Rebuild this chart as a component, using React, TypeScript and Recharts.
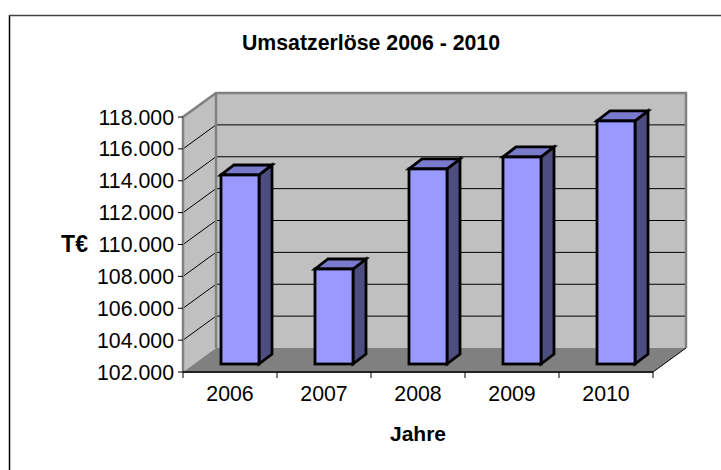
import * as React from "react";
import { BarChart, Bar, XAxis, YAxis, usePlotArea } from "recharts";

const years = ["2006", "2007", "2008", "2009", "2010"];
const revenue = [113860, 107960, 114240, 114990, 117250];
const yTicks = [102000, 104000, 106000, 108000, 110000, 112000, 114000, 116000, 118000];

const data = years.map((year, i) => ({ year, revenue: revenue[i] }));

const FONT = "'Liberation Sans', Arial, sans-serif";
const DEPTH_X = 33;
const DEPTH_Y = 24;
const BAR_DX = 10;
const BAR_DY = 8;
const BAR_DEPTH_X = 13;
const BAR_DEPTH_Y = 10;
const EDGE = "#808080";

const formatTick = (v: number) => String(v).replace(/(\d)(\d{3})$/, "$1.$2");

function Backdrop() {
  const plot = usePlotArea();
  if (!plot) return null;
  const { x, y, width, height } = plot;
  const right = x + width;
  const bottom = y + height;
  const bx = x + DEPTH_X;
  const by = y - DEPTH_Y;
  const lineYs = yTicks.slice(1, -1).map((_, i) => bottom - ((i + 1) * height) / (yTicks.length - 1));
  return (
    <g>
      <line x1={9.5} y1={15} x2={9.5} y2={470} stroke="#000" strokeWidth={1.5} />
      <line x1={9} y1={15.5} x2={721} y2={15.5} stroke="#444" strokeWidth={1.5} />
      {/* walls and floor */}
      <polygon points={`${bx},${by} ${bx + width},${by} ${bx + width},${by + height} ${bx},${by + height}`} fill="#c0c0c0" />
      <polygon points={`${x},${y} ${bx},${by} ${bx},${by + height} ${x},${bottom}`} fill="#c0c0c0" />
      <polygon points={`${x},${bottom} ${bx},${by + height} ${bx + width},${by + height} ${right},${bottom}`} fill="#808080" />
      {lineYs.map((ly) => (
        <polyline
          key={ly}
          points={`${x},${ly} ${bx},${ly - DEPTH_Y} ${bx + width},${ly - DEPTH_Y}`}
          fill="none"
          stroke="#000"
          strokeWidth={1}
        />
      ))}
      <polyline
        points={`${x},${bottom} ${x},${y} ${bx},${by} ${bx + width},${by} ${bx + width},${by + height}`}
        fill="none"
        stroke={EDGE}
        strokeWidth={2.5}
      />
      <line x1={bx} y1={by} x2={bx} y2={by + height} stroke={EDGE} strokeWidth={2.5} />
      <line x1={right} y1={bottom} x2={bx + width} y2={by + height} stroke="#000" strokeWidth={1} />
      <line x1={x} y1={bottom} x2={right} y2={bottom} stroke="#222" strokeWidth={2} />
      {years.concat("").map((_, i) => {
        const tx = x + (i * width) / years.length;
        return <line key={i} x1={tx} y1={bottom} x2={tx} y2={bottom + 6} stroke="#000" strokeWidth={1} />;
      })}
      <text x={371} y={49.5} textAnchor="middle" fontFamily={FONT} fontSize={21.3} fontWeight="bold" fill="#000">
        Umsatzerlöse 2006 - 2010
      </text>
      <text x={418} y={441} textAnchor="middle" fontFamily={FONT} fontSize={21} fontWeight="bold" fill="#000">
        Jahre
      </text>
      <text x={74.5} y={252} textAnchor="middle" fontFamily={FONT} fontSize={23} fontWeight="bold" fill="#000">
        T€
      </text>
    </g>
  );
}

function Bar3D(props: any) {
  const { x, y, width, height } = props;
  const l = x + BAR_DX;
  const r = l + width;
  const t = y - BAR_DY;
  const b = t + height;
  const dx = BAR_DEPTH_X;
  const dy = BAR_DEPTH_Y;
  return (
    <g stroke="#000" strokeWidth={2.8} strokeLinejoin="miter">
      <polygon points={`${r},${t} ${r + dx},${t - dy} ${r + dx},${b - dy} ${r},${b}`} fill="#4d4d80" />
      <polygon points={`${l},${t} ${l + dx},${t - dy} ${r + dx},${t - dy} ${r},${t}`} fill="#7a7acc" />
      <rect x={l} y={t} width={width} height={height} fill="#9999ff" />
    </g>
  );
}

export default function App() {
  return (
    <div style={{ position: "absolute", left: 0, top: 0, width: 721, height: 470 }}>
      <BarChart width={721} height={470} data={data} margin={{ top: 117, right: 68, bottom: 68, left: 0 }}>
        <Backdrop />
        <XAxis
          dataKey="year"
          height={30}
          axisLine={false}
          tickLine={false}
          tickMargin={8}
          tick={{ fill: "#000", fontSize: 21.3, fontFamily: FONT }}
        />
        <YAxis
          width={183}
          domain={[102000, 118000]}
          ticks={yTicks}
          interval={0}
          tickFormatter={formatTick}
          axisLine={false}
          tickSize={5}
          tickMargin={4}
          tickLine={{ stroke: "#000" }}
          tick={{ fill: "#000", fontSize: 21.3, fontFamily: FONT }}
        />
        <Bar dataKey="revenue" barSize={38} shape={<Bar3D />} isAnimationActive={false} />
      </BarChart>
    </div>
  );
}
